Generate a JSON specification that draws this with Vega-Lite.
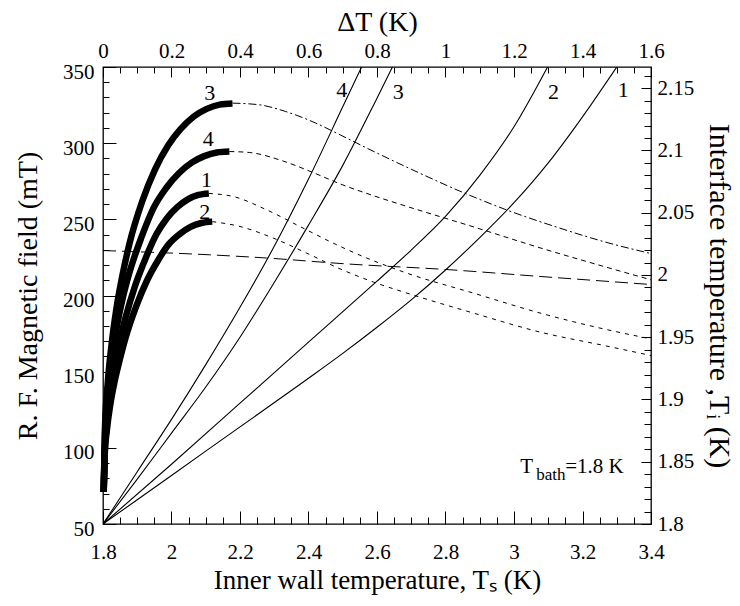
{
  "$schema": "https://vega.github.io/schema/vega-lite/v6.json",
  "width": 548,
  "height": 457,
  "autosize": {"type": "none"},
  "padding": {"left": 103, "top": 67, "right": 89, "bottom": 82},
  "background": "white",
  "config": {
    "view": {"stroke": "black", "strokeWidth": 1.3},
    "axis": {
      "labelFont": "Liberation Serif", "labelFontSize": 21, "labelColor": "black",
      "titleFont": "Liberation Serif", "titleFontSize": 28, "titleFontWeight": "normal", "titleColor": "black",
      "tickColor": "black", "tickWidth": 1, "grid": false, "domain": false,
      "labelFlush": false, "labelOverlap": false, "labelBound": false
    }
  },
  "datasets": {
    "thick": [
      {"curve": "3", "Ts": 1.802, "H": 71}, {"curve": "3", "Ts": 1.8058, "H": 113}, {"curve": "3", "Ts": 1.8133, "H": 141}, {"curve": "3", "Ts": 1.8246, "H": 167}, {"curve": "3", "Ts": 1.8396, "H": 192}, {"curve": "3", "Ts": 1.8584, "H": 215}, {"curve": "3", "Ts": 1.8772, "H": 234}, {"curve": "3", "Ts": 1.9148, "H": 262}, {"curve": "3", "Ts": 1.9524, "H": 283}, {"curve": "3", "Ts": 1.99, "H": 298.5}, {"curve": "3", "Ts": 2.0276, "H": 309.5}, {"curve": "3", "Ts": 2.0652, "H": 317.5}, {"curve": "3", "Ts": 2.1028, "H": 322.5}, {"curve": "3", "Ts": 2.1404, "H": 325.3}, {"curve": "3", "Ts": 2.178, "H": 326},
      {"curve": "4", "Ts": 1.802, "H": 71}, {"curve": "4", "Ts": 1.8057, "H": 108.4}, {"curve": "4", "Ts": 1.813, "H": 133}, {"curve": "4", "Ts": 1.824, "H": 155.9}, {"curve": "4", "Ts": 1.8387, "H": 177.4}, {"curve": "4", "Ts": 1.857, "H": 197.7}, {"curve": "4", "Ts": 1.8754, "H": 213.7}, {"curve": "4", "Ts": 1.9121, "H": 238.1}, {"curve": "4", "Ts": 1.9488, "H": 258}, {"curve": "4", "Ts": 1.9855, "H": 270.9}, {"curve": "4", "Ts": 2.0222, "H": 280.4}, {"curve": "4", "Ts": 2.0589, "H": 287.2}, {"curve": "4", "Ts": 2.0956, "H": 291.5}, {"curve": "4", "Ts": 2.1323, "H": 293.9}, {"curve": "4", "Ts": 2.169, "H": 294.5},
      {"curve": "1", "Ts": 1.802, "H": 71}, {"curve": "1", "Ts": 1.8051, "H": 98}, {"curve": "1", "Ts": 1.8112, "H": 117}, {"curve": "1", "Ts": 1.8204, "H": 135}, {"curve": "1", "Ts": 1.8333, "H": 153}, {"curve": "1", "Ts": 1.8486, "H": 170}, {"curve": "1", "Ts": 1.864, "H": 184}, {"curve": "1", "Ts": 1.8947, "H": 207}, {"curve": "1", "Ts": 1.9254, "H": 225}, {"curve": "1", "Ts": 1.9555, "H": 240}, {"curve": "1", "Ts": 1.9862, "H": 250.6}, {"curve": "1", "Ts": 2.0169, "H": 258}, {"curve": "1", "Ts": 2.0476, "H": 263.1}, {"curve": "1", "Ts": 2.0783, "H": 266}, {"curve": "1", "Ts": 2.109, "H": 267},
      {"curve": "2", "Ts": 1.802, "H": 71}, {"curve": "2", "Ts": 1.8052, "H": 96}, {"curve": "2", "Ts": 1.8115, "H": 112}, {"curve": "2", "Ts": 1.821, "H": 128}, {"curve": "2", "Ts": 1.8343, "H": 144}, {"curve": "2", "Ts": 1.8502, "H": 159}, {"curve": "2", "Ts": 1.8656, "H": 172}, {"curve": "2", "Ts": 1.8971, "H": 193}, {"curve": "2", "Ts": 1.9288, "H": 210}, {"curve": "2", "Ts": 1.9605, "H": 223}, {"curve": "2", "Ts": 1.9922, "H": 233.7}, {"curve": "2", "Ts": 2.0239, "H": 240.3}, {"curve": "2", "Ts": 2.0556, "H": 245}, {"curve": "2", "Ts": 2.0873, "H": 247.6}, {"curve": "2", "Ts": 2.119, "H": 248.5}
    ],
    "thin": [
      {"curve": "4", "Ts": 1.8, "Ti": 1.8}, {"curve": "4", "Ts": 1.9, "Ti": 1.842}, {"curve": "4", "Ts": 2.0, "Ti": 1.884}, {"curve": "4", "Ts": 2.1, "Ti": 1.928}, {"curve": "4", "Ts": 2.2, "Ti": 1.974}, {"curve": "4", "Ts": 2.3, "Ti": 2.023}, {"curve": "4", "Ts": 2.4, "Ti": 2.077}, {"curve": "4", "Ts": 2.5, "Ti": 2.135}, {"curve": "4", "Ts": 2.555, "Ti": 2.167},
      {"curve": "3", "Ts": 1.8, "Ti": 1.8}, {"curve": "3", "Ts": 1.9, "Ti": 1.836}, {"curve": "3", "Ts": 2.0, "Ti": 1.873}, {"curve": "3", "Ts": 2.1, "Ti": 1.91}, {"curve": "3", "Ts": 2.2, "Ti": 1.95}, {"curve": "3", "Ts": 2.3, "Ti": 1.994}, {"curve": "3", "Ts": 2.4, "Ti": 2.04}, {"curve": "3", "Ts": 2.5, "Ti": 2.088}, {"curve": "3", "Ts": 2.6, "Ti": 2.142}, {"curve": "3", "Ts": 2.645, "Ti": 2.167},
      {"curve": "2", "Ts": 1.8, "Ti": 1.8}, {"curve": "2", "Ts": 2.0, "Ti": 1.848}, {"curve": "2", "Ts": 2.2, "Ti": 1.897}, {"curve": "2", "Ts": 2.4, "Ti": 1.946}, {"curve": "2", "Ts": 2.6, "Ti": 1.995}, {"curve": "2", "Ts": 2.7, "Ti": 2.02}, {"curve": "2", "Ts": 2.8, "Ti": 2.047}, {"curve": "2", "Ts": 2.9, "Ti": 2.08}, {"curve": "2", "Ts": 3.0, "Ti": 2.119}, {"curve": "2", "Ts": 3.098, "Ti": 2.167},
      {"curve": "1", "Ts": 1.8, "Ti": 1.8}, {"curve": "1", "Ts": 2.0, "Ti": 1.839}, {"curve": "1", "Ts": 2.2, "Ti": 1.878}, {"curve": "1", "Ts": 2.4, "Ti": 1.917}, {"curve": "1", "Ts": 2.5, "Ti": 1.937}, {"curve": "1", "Ts": 2.6, "Ti": 1.958}, {"curve": "1", "Ts": 2.7, "Ti": 1.98}, {"curve": "1", "Ts": 2.8, "Ti": 2.004}, {"curve": "1", "Ts": 2.9, "Ti": 2.03}, {"curve": "1", "Ts": 3.0, "Ti": 2.058}, {"curve": "1", "Ts": 3.1, "Ti": 2.09}, {"curve": "1", "Ts": 3.2, "Ti": 2.127}, {"curve": "1", "Ts": 3.3, "Ti": 2.167}
    ],
    "c3d": [
      {"Ts": 2.178, "H": 326.3}, {"Ts": 2.256, "H": 325.2}, {"Ts": 2.333, "H": 320.8}, {"Ts": 2.421, "H": 313.2}, {"Ts": 2.492, "H": 305.5}, {"Ts": 2.6, "H": 293.5}, {"Ts": 2.72, "H": 280.8}, {"Ts": 2.842, "H": 268.5}, {"Ts": 2.983, "H": 255.8}, {"Ts": 3.13, "H": 244.5}, {"Ts": 3.26, "H": 235.5}, {"Ts": 3.4, "H": 227.5}
    ],
    "c4d": [
      {"Ts": 2.169, "H": 294.5}, {"Ts": 2.227, "H": 293.9}, {"Ts": 2.324, "H": 288.4}, {"Ts": 2.421, "H": 280}, {"Ts": 2.492, "H": 273.3}, {"Ts": 2.59, "H": 265.5}, {"Ts": 2.687, "H": 258.5}, {"Ts": 2.881, "H": 245.1}, {"Ts": 3.076, "H": 231.3}, {"Ts": 3.271, "H": 218.5}, {"Ts": 3.4, "H": 210.3}
    ],
    "c1d": [
      {"Ts": 2.109, "H": 267}, {"Ts": 2.18, "H": 265}, {"Ts": 2.278, "H": 256.2}, {"Ts": 2.375, "H": 245.3}, {"Ts": 2.472, "H": 234.4}, {"Ts": 2.521, "H": 229.3}, {"Ts": 2.687, "H": 214.7}, {"Ts": 2.881, "H": 201.6}, {"Ts": 3.076, "H": 188.5}, {"Ts": 3.271, "H": 177.6}, {"Ts": 3.4, "H": 171.5}
    ],
    "c2d": [
      {"Ts": 2.119, "H": 248.5}, {"Ts": 2.2, "H": 245.3}, {"Ts": 2.297, "H": 237.7}, {"Ts": 2.395, "H": 227.8}, {"Ts": 2.492, "H": 217.5}, {"Ts": 2.59, "H": 208.8}, {"Ts": 2.687, "H": 201.6}, {"Ts": 2.881, "H": 188.5}, {"Ts": 3.076, "H": 176}, {"Ts": 3.271, "H": 166.8}, {"Ts": 3.4, "H": 160.6}
    ],
    "longdash": [
      {"Ts": 1.8, "H": 229.5}, {"Ts": 2.112, "H": 226.7}, {"Ts": 2.278, "H": 224.6}, {"Ts": 2.507, "H": 220.8}, {"Ts": 2.813, "H": 216.9}, {"Ts": 3.076, "H": 212.5}, {"Ts": 3.339, "H": 208.2}, {"Ts": 3.4, "H": 207.2}
    ],
    "labH": [
      {"label": "3", "Ts": 2.112, "H": 333}, {"label": "4", "Ts": 2.107, "H": 303}, {"label": "1", "Ts": 2.102, "H": 276}, {"label": "2", "Ts": 2.097, "H": 255}
    ],
    "labT": [
      {"label": "4", "Ts": 2.497, "Ti": 2.1485}, {"label": "3", "Ts": 2.662, "Ti": 2.147}, {"label": "2", "Ts": 3.115, "Ti": 2.147}, {"label": "1", "Ts": 3.319, "Ti": 2.1485}
    ],
    "bath": [
      {"Ts": 3.018, "Ti": 1.841}
    ]
  },
  "layer": [
    {
      "data": {"name": "thick"},
      "mark": {"type": "line", "color": "black", "strokeWidth": 6.5, "strokeCap": "butt", "strokeJoin": "round", "interpolate": "monotone"},
      "encoding": {
        "x": {"field": "Ts", "type": "quantitative", "scale": {"domain": [1.8, 3.4], "nice": false, "zero": false},
          "axis": {"orient": "bottom", "values": [1.8, 2, 2.2, 2.4, 2.6, 2.8, 3, 3.2, 3.4], "format": ".1~f", "ticks": false, "tickSize": 0, "labelPadding": 17, "labelFont": "Liberation Serif", "title": "Inner wall temperature, Tₛ (K)", "titleFontSize": 27, "titlePadding": 5}},
        "y": {"field": "H", "type": "quantitative", "scale": {"domain": [50, 350], "nice": false, "zero": false},
          "axis": {"orient": "left", "values": [50, 100, 150, 200, 250, 300, 350], "ticks": false, "tickSize": 0, "labelPadding": 9, "labelOffset": 5, "labelFont": "Liberation Serif", "title": "R. F. Magnetic field (mT)", "titlePadding": 20}},
        "detail": {"field": "curve", "type": "nominal"}
      }
    },
    {
      "data": {"name": "thin"},
      "mark": {"type": "line", "color": "black", "strokeWidth": 1.1, "interpolate": "monotone", "clip": true},
      "encoding": {
        "x": {"field": "Ts", "type": "quantitative", "scale": {"domain": [1.8, 3.4], "nice": false, "zero": false},
          "axis": {"orient": "top", "values": [1.8, 2, 2.2, 2.4, 2.6, 2.8, 3, 3.2, 3.4], "labelExpr": "format(datum.value - 1.8, '.1~f')", "ticks": false, "tickSize": 0, "labelPadding": 6, "labelFont": "Liberation Serif", "title": "ΔT (K)", "titlePadding": 4}},
        "y": {"field": "Ti", "type": "quantitative", "scale": {"domain": [1.8, 2.167], "nice": false, "zero": false},
          "axis": {"orient": "right", "values": [1.8, 1.85, 1.9, 1.95, 2, 2.05, 2.1, 2.15], "format": ".2~f", "ticks": false, "tickSize": 0, "labelPadding": 6, "labelFont": "Liberation Serif", "title": "Interface temperature ,Tᵢ (K)", "titleFontSize": 30, "titlePadding": 10}},
        "detail": {"field": "curve", "type": "nominal"}
      }
    },
    {
      "data": {"name": "c3d"},
      "mark": {"type": "line", "color": "black", "strokeWidth": 1, "strokeDash": [8, 3, 2, 3], "interpolate": "monotone"},
      "encoding": {
        "x": {"field": "Ts", "type": "quantitative", "scale": {"domain": [1.8, 3.4], "nice": false, "zero": false},
          "axis": {"orient": "bottom", "values": [1.8, 2, 2.2, 2.4, 2.6, 2.8, 3, 3.2, 3.4], "labels": false, "tickSize": -13, "title": null}},
        "y": {"field": "H", "type": "quantitative", "scale": {"domain": [50, 350], "nice": false, "zero": false},
          "axis": {"orient": "left", "values": [50, 100, 150, 200, 250, 300, 350], "labels": false, "tickSize": -13, "title": null}}
      }
    },
    {
      "data": {"name": "c4d"},
      "mark": {"type": "line", "color": "black", "strokeWidth": 1, "strokeDash": [5, 4], "interpolate": "monotone"},
      "encoding": {
        "x": {"field": "Ts", "type": "quantitative", "scale": {"domain": [1.8, 3.4], "nice": false, "zero": false},
          "axis": {"orient": "bottom", "values": [1.85, 1.9, 1.95, 2.05, 2.1, 2.15, 2.25, 2.3, 2.35, 2.45, 2.5, 2.55, 2.65, 2.7, 2.75, 2.85, 2.9, 2.95, 3.05, 3.1, 3.15, 3.25, 3.3, 3.35], "labels": false, "tickSize": -7, "title": null}},
        "y": {"field": "H", "type": "quantitative", "scale": {"domain": [50, 350], "nice": false, "zero": false},
          "axis": {"orient": "left", "values": [60, 70, 80, 90, 110, 120, 130, 140, 160, 170, 180, 190, 210, 220, 230, 240, 260, 270, 280, 290, 310, 320, 330, 340], "labels": false, "tickSize": -6, "title": null}}
      }
    },
    {
      "data": {"name": "c1d"},
      "mark": {"type": "line", "color": "black", "strokeWidth": 1, "strokeDash": [4, 5], "interpolate": "monotone"},
      "encoding": {
        "x": {"field": "Ts", "type": "quantitative", "scale": {"domain": [1.8, 3.4], "nice": false, "zero": false},
          "axis": {"orient": "top", "values": [1.8, 2, 2.2, 2.4, 2.6, 2.8, 3, 3.2, 3.4], "labels": false, "tickSize": -10, "title": null}},
        "y": {"field": "H", "type": "quantitative", "scale": {"domain": [50, 350], "nice": false, "zero": false}, "axis": null}
      }
    },
    {
      "data": {"name": "c2d"},
      "mark": {"type": "line", "color": "black", "strokeWidth": 1, "strokeDash": [4, 5], "interpolate": "monotone"},
      "encoding": {
        "x": {"field": "Ts", "type": "quantitative", "scale": {"domain": [1.8, 3.4], "nice": false, "zero": false},
          "axis": {"orient": "top", "values": [1.85, 1.9, 1.95, 2.05, 2.1, 2.15, 2.25, 2.3, 2.35, 2.45, 2.5, 2.55, 2.65, 2.7, 2.75, 2.85, 2.9, 2.95, 3.05, 3.1, 3.15, 3.25, 3.3, 3.35], "labels": false, "tickSize": -6, "title": null}},
        "y": {"field": "H", "type": "quantitative", "scale": {"domain": [50, 350], "nice": false, "zero": false}, "axis": null}
      }
    },
    {
      "data": {"name": "longdash"},
      "mark": {"type": "line", "color": "black", "strokeWidth": 1, "strokeDash": [13, 6], "interpolate": "monotone"},
      "encoding": {
        "x": {"field": "Ts", "type": "quantitative", "scale": {"domain": [1.8, 3.4], "nice": false, "zero": false}, "axis": null},
        "y": {"field": "H", "type": "quantitative", "scale": {"domain": [50, 350], "nice": false, "zero": false}, "axis": null}
      }
    },
    {
      "data": {"name": "labH"},
      "mark": {"type": "text", "font": "Liberation Serif", "fontSize": 22, "color": "black"},
      "encoding": {
        "x": {"field": "Ts", "type": "quantitative", "scale": {"domain": [1.8, 3.4], "nice": false, "zero": false}, "axis": null},
        "y": {"field": "H", "type": "quantitative", "scale": {"domain": [50, 350], "nice": false, "zero": false}, "axis": null},
        "text": {"field": "label"}
      }
    },
    {
      "data": {"name": "labT"},
      "mark": {"type": "text", "font": "Liberation Serif", "fontSize": 22, "color": "black"},
      "encoding": {
        "x": {"field": "Ts", "type": "quantitative", "scale": {"domain": [1.8, 3.4], "nice": false, "zero": false}, "axis": null},
        "y": {"field": "Ti", "type": "quantitative", "scale": {"domain": [1.8, 2.167], "nice": false, "zero": false},
          "axis": {"orient": "right", "values": [1.8, 1.85, 1.9, 1.95, 2, 2.05, 2.1, 2.15], "labels": false, "tickSize": -10, "title": null}},
        "text": {"field": "label"}
      }
    },
    {
      "data": {"name": "bath"},
      "mark": {"type": "text", "font": "Liberation Serif", "fontSize": 21, "color": "black", "align": "left", "baseline": "alphabetic", "text": "T"},
      "encoding": {
        "x": {"field": "Ts", "type": "quantitative", "scale": {"domain": [1.8, 3.4], "nice": false, "zero": false}, "axis": null},
        "y": {"field": "Ti", "type": "quantitative", "scale": {"domain": [1.8, 2.167], "nice": false, "zero": false},
          "axis": {"orient": "right", "values": [1.81, 1.82, 1.83, 1.84, 1.86, 1.87, 1.88, 1.89, 1.91, 1.92, 1.93, 1.94, 1.96, 1.97, 1.98, 1.99, 2.01, 2.02, 2.03, 2.04, 2.06, 2.07, 2.08, 2.09, 2.11, 2.12, 2.13, 2.14, 2.16], "labels": false, "tickSize": -7, "title": null}}
      }
    },
    {
      "data": {"name": "bath"},
      "mark": {"type": "text", "font": "Liberation Serif", "fontSize": 17, "color": "black", "align": "left", "baseline": "alphabetic", "dx": 16, "dy": 7, "text": "bath"},
      "encoding": {
        "x": {"field": "Ts", "type": "quantitative", "scale": {"domain": [1.8, 3.4], "nice": false, "zero": false}, "axis": null},
        "y": {"field": "Ti", "type": "quantitative", "scale": {"domain": [1.8, 2.167], "nice": false, "zero": false}, "axis": null}
      }
    },
    {
      "data": {"name": "bath"},
      "mark": {"type": "text", "font": "Liberation Serif", "fontSize": 21, "color": "black", "align": "left", "baseline": "alphabetic", "dx": 45, "text": "=1.8 K"},
      "encoding": {
        "x": {"field": "Ts", "type": "quantitative", "scale": {"domain": [1.8, 3.4], "nice": false, "zero": false}, "axis": null},
        "y": {"field": "Ti", "type": "quantitative", "scale": {"domain": [1.8, 2.167], "nice": false, "zero": false}, "axis": null}
      }
    }
  ],
  "resolve": {"scale": {"x": "independent", "y": "independent"}, "axis": {"x": "independent", "y": "independent"}}
}
